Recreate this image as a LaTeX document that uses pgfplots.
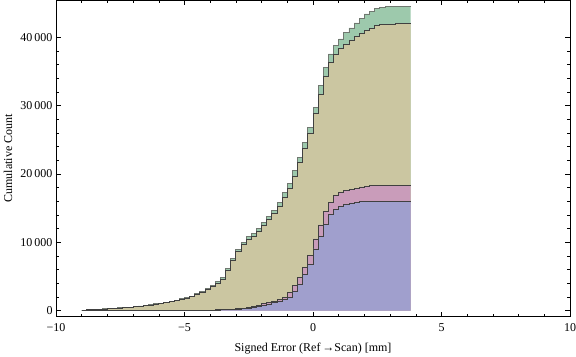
\documentclass[border=0pt]{standalone}
\usepackage{fontspec}
\setmainfont{Liberation Serif}
\usepackage{pgfplots}
\usepackage{pgfplotstable}
\pgfplotsset{compat=1.18}
\definecolor{cgreen}{RGB}{157,201,172}
\definecolor{ckhaki}{RGB}{203,198,161}
\definecolor{cpink}{RGB}{201,156,186}
\definecolor{cblue}{RGB}{160,159,205}
\definecolor{egreen}{RGB}{112,120,112}
\definecolor{edark}{RGB}{64,64,64}
\pgfplotstableread{
x k g p b
-9.0 50 80 0 0
-8.8 130 170 0 0
-8.6 150 200 0 0
-8.4 180 240 0 0
-8.2 250 300 0 0
-8.0 270 330 0 0
-7.8 300 370 0 0
-7.6 390 450 0 0
-7.4 410 480 0 0
-7.2 450 530 0 0
-7.0 560 640 0 0
-6.8 600 690 0 0
-6.6 700 790 0 0
-6.4 800 890 0 0
-6.2 900 1000 0 0
-6.0 1000 1100 0 0
-5.8 1150 1250 0 0
-5.6 1300 1400 0 0
-5.4 1450 1560 0 0
-5.2 1600 1720 0 0
-5.0 1800 1920 30 20
-4.8 2050 2150 40 30
-4.6 2350 2470 50 40
-4.4 2700 2850 60 50
-4.2 3100 3270 70 60
-4.0 3550 3750 90 70
-3.8 4050 4270 110 90
-3.6 4550 4800 140 110
-3.4 5850 6130 170 140
-3.2 7300 7600 220 170
-3.0 8600 8920 280 220
-2.8 9650 9980 350 280
-2.6 10450 10790 450 350
-2.4 10900 11240 600 430
-2.2 11600 12090 800 580
-2.0 12450 12940 1000 760
-1.8 13300 13790 1200 960
-1.6 14200 14690 1400 1170
-1.4 15250 15880 1650 1380
-1.2 16500 17230 2000 1620
-1.0 17850 18680 2730 1950
-0.8 19650 20480 3700 2820
-0.6 21700 22480 4930 3800
-0.4 23800 24680 6390 5270
-0.2 26000 26870 8090 6830
0.0 28900 29740 10490 9030
0.2 31600 32920 12540 10870
0.4 34300 35650 14530 12680
0.6 36250 37560 15900 14040
0.8 37550 38810 16820 14780
1.0 38300 39750 17360 15260
1.2 39000 40770 17600 15510
1.4 39550 41360 17800 15760
1.6 40050 42090 17950 15880
1.8 40500 42820 18100 15930
2.0 40950 43410 18190 15990
2.2 41350 43790 18290 16000
2.4 41700 44190 18300 16010
2.6 41880 44430 18310 16020
2.8 41930 44450 18320 16020
3.0 41950 44520 18320 16030
3.2 41960 44520 18320 16030
3.4 41970 44530 18330 16030
3.6 41980 44530 18330 16040
3.8 41980 44530 18330 16040
}\data
\begin{document}
\begin{tikzpicture}
\begin{axis}[
  at={(0,0)}, anchor=south west, scale only axis,
  width=514bp, height=316.7bp,
  xmin=-10, xmax=10, ymin=-878, ymax=45455,
  xtick={-10,-5,0,5,10}, xticklabels={−10,−5,0,5,10},
  minor x tick num=4,
  ytick={0,10000,20000,30000,40000},
  yticklabels={0,10\,000,20\,000,30\,000,40\,000},
  scaled y ticks=false,
  minor y tick num=4,
  tick align=inside,
  major tick length=5bp, minor tick length=2.7bp,
  every tick/.style={black, line width=0.5bp},
  axis line style={line width=0.6bp},
  xticklabel style={inner sep=0pt, yshift=-6.3bp, font=\fontsize{12bp}{14bp}\selectfont},
  yticklabel style={inner sep=0pt, xshift=-3.3bp, font=\fontsize{12bp}{14bp}\selectfont},
  xlabel={Signed Error (Ref\,→Scan) [mm]},
  ylabel={Cumulative Count},
  label style={font=\fontsize{12bp}{14bp}\selectfont},
  xlabel style={at={(axis description cs:0.5,0)}, anchor=center, yshift=-31.5bp},
  ylabel style={at={(axis description cs:-0.0934,0.5)}, anchor=center},
]
\addplot[const plot, fill=cgreen, draw=none, forget plot] table[x=x,y=g]{\data} \closedcycle;
\addplot[const plot, draw=egreen, line width=0.9bp, forget plot] table[x=x,y=g]{\data};
\addplot[const plot, fill=ckhaki, draw=none, forget plot] table[x=x,y=k]{\data} \closedcycle;
\addplot[const plot, draw=edark, line width=0.9bp, forget plot] table[x=x,y=k]{\data};
\addplot[const plot, fill=cpink, draw=none, forget plot] table[x=x,y=p]{\data} \closedcycle;
\addplot[const plot, draw=edark, line width=0.9bp, forget plot] table[x=x,y=p]{\data};
\addplot[const plot, fill=cblue, draw=none, forget plot] table[x=x,y=b]{\data} \closedcycle;
\addplot[const plot, draw=edark, line width=0.9bp, forget plot] table[x=x,y=b]{\data};
\end{axis}
\pgfresetboundingbox
\path[use as bounding box] (-56bp,-40.3bp) rectangle (520bp,316.7bp);
\end{tikzpicture}
\end{document}
